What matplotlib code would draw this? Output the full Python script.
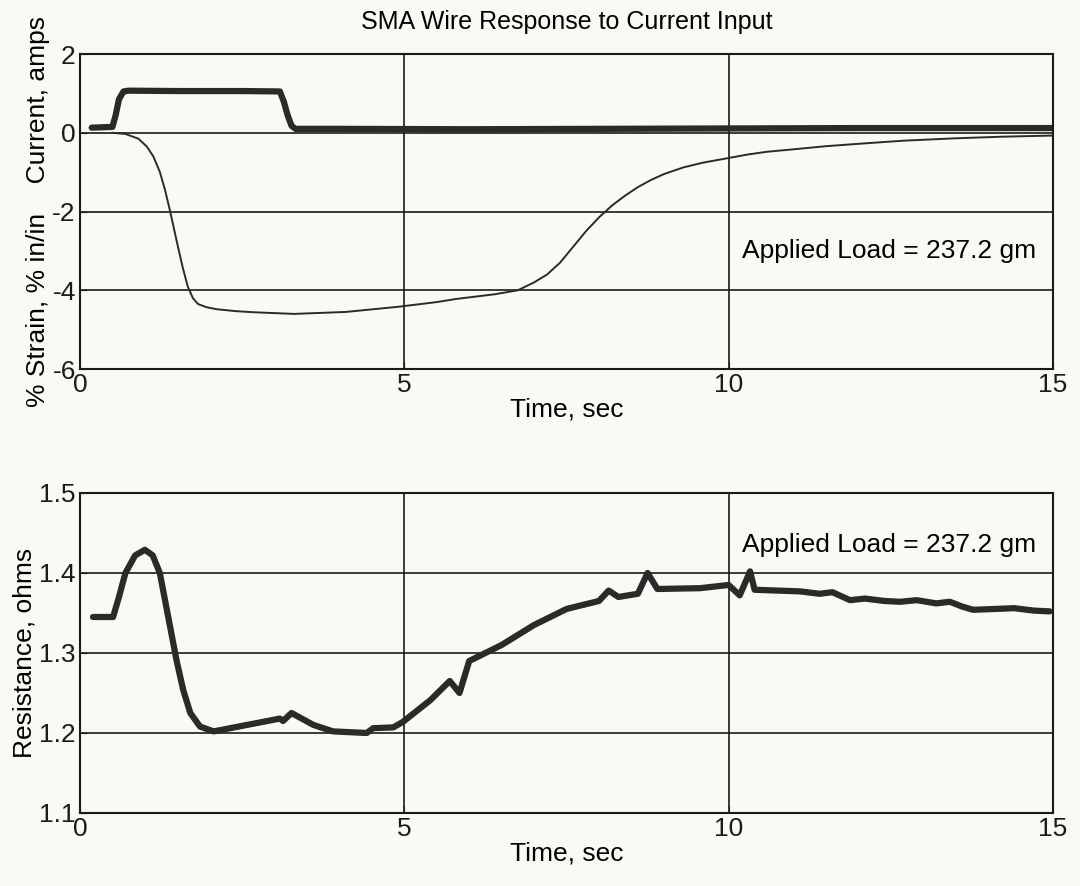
import matplotlib
matplotlib.use("Agg")
import matplotlib.pyplot as plt

plt.rcParams['font.family'] = ['Liberation Sans', 'DejaVu Sans']
plt.rcParams['axes.unicode_minus'] = False

# current input, amps
cur_t = [0.18, 0.50, 0.55, 0.60, 0.67, 0.75, 1.5, 2.5, 3.08, 3.14, 3.20, 3.26, 3.32,
         4.0, 6.0, 8.0, 10.0, 12.0, 15.0]
cur_a = [0.13, 0.15, 0.45, 0.85, 1.05, 1.07, 1.06, 1.06, 1.05, 0.80, 0.45, 0.18, 0.10,
         0.10, 0.09, 0.10, 0.11, 0.12, 0.12]

# strain, % in/in
strain_t = [0.5, 0.7, 0.9, 1.03, 1.13, 1.23, 1.31, 1.39, 1.49, 1.58, 1.66, 1.74, 1.82,
            1.95, 2.1, 2.4, 2.7, 3.3, 4.1, 4.9, 5.5, 5.8, 5.9, 6.4, 6.75, 7.0, 7.2,
            7.4, 7.6, 7.8, 8.0, 8.2, 8.4, 8.6, 8.8, 9.0, 9.3, 9.6, 10.0, 10.3, 10.6,
            11.0, 11.5, 12.0, 12.7, 13.5, 14.2, 15.0]
strain_p = [0.0, -0.03, -0.15, -0.35, -0.6, -0.99, -1.45, -2.0, -2.75, -3.4, -3.9,
            -4.2, -4.35, -4.43, -4.48, -4.53, -4.56, -4.6, -4.55, -4.42, -4.3, -4.22,
            -4.2, -4.1, -4.0, -3.8, -3.6, -3.3, -2.9, -2.5, -2.15, -1.85, -1.6, -1.38,
            -1.2, -1.05, -0.88, -0.76, -0.64, -0.55, -0.48, -0.42, -0.34, -0.28, -0.2,
            -0.14, -0.1, -0.07]

# resistance, ohms
res_t = [0.2, 0.51, 0.6, 0.7, 0.85, 1.0, 1.12, 1.23, 1.36, 1.49, 1.59, 1.70, 1.85,
         2.06, 2.57, 3.08, 3.13, 3.26, 3.6, 3.9, 4.42, 4.52, 4.83, 4.98, 5.4, 5.7,
         5.85, 6.0, 6.5, 7.0, 7.5, 8.0, 8.15, 8.3, 8.6, 8.75, 8.9, 9.56, 10.0, 10.17,
         10.33, 10.4, 11.1, 11.4, 11.6, 11.87, 12.1, 12.4, 12.64, 12.9, 13.2, 13.41,
         13.6, 13.77, 14.1, 14.4, 14.7, 14.95]
res_ohm = [1.345, 1.345, 1.37, 1.40, 1.422, 1.429, 1.422, 1.40, 1.345, 1.29, 1.254,
           1.225, 1.208, 1.202, 1.21, 1.218, 1.215, 1.225, 1.21, 1.202, 1.20, 1.206,
           1.207, 1.214, 1.241, 1.265, 1.25, 1.29, 1.31, 1.335, 1.355, 1.365, 1.378,
           1.37, 1.374, 1.40, 1.38, 1.381, 1.385, 1.372, 1.402, 1.379, 1.377, 1.374,
           1.376, 1.366, 1.368, 1.365, 1.364, 1.366, 1.362, 1.364, 1.358, 1.354, 1.355,
           1.356, 1.353, 1.352]

bg = '#fafaf5'
fig = plt.figure(figsize=(10.8, 8.86), dpi=100, facecolor=bg)
ax1 = fig.add_axes([0.0741, 0.5835, 0.9009, 0.3555], facecolor=bg)
ax2 = fig.add_axes([0.0741, 0.0824, 0.9009, 0.3612], facecolor=bg)

fs = 19
ax1.plot(cur_t, cur_a, color='#2a2a2a', lw=4.5, solid_capstyle='round')
ax1.plot(strain_t, strain_p, color='#2a2a2a', lw=1.4)
ax1.set_xlim(0, 15)
ax1.set_ylim(-6, 2)
ax1.set_yticks([-6, -4, -2, 0, 2])
ax1.set_xlabel("Time, sec", fontsize=fs, labelpad=0)
ax1.set_ylabel("% Strain, % in/in    Current, amps", fontsize=fs, labelpad=2)
ax1.set_title("SMA Wire Response to Current Input", fontsize=18, pad=18)
ax1.text(10.2, -3.0, "Applied Load = 237.2 gm", fontsize=fs, va='center')

ax2.plot(res_t, res_ohm, color='#2a2a2a', lw=4.5, solid_capstyle='round')
ax2.set_xlim(0, 15)
ax2.set_ylim(1.1, 1.5)
ax2.set_yticks([1.1, 1.2, 1.3, 1.4, 1.5])
ax2.set_xlabel("Time, sec", fontsize=fs, labelpad=0)
ax2.set_ylabel("Resistance, ohms", fontsize=fs, labelpad=2)
ax2.text(10.2, 1.435, "Applied Load = 237.2 gm", fontsize=fs, va='center')

for ax in (ax1, ax2):
    ax.set_xticks([0, 5, 10, 15])
    ax.grid(True, color='#1a1a1a', lw=1.2)
    ax.tick_params(direction='in', length=5, labelsize=fs, colors='#1a1a1a', pad=3)
    for s in ax.spines.values():
        s.set_linewidth(1.5)
        s.set_color('#1a1a1a')

fig.savefig("out.png", dpi=100, facecolor=bg)
